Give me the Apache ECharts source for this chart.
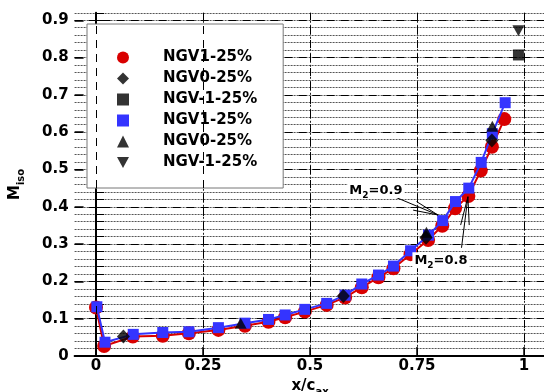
<!DOCTYPE html>
<html>
<head>
<meta charset="utf-8">
<script src="https://cdn.jsdelivr.net/npm/echarts@6/dist/echarts.min.js"></script>
<style>html,body{margin:0;padding:0;background:#fff}#c{width:544px;height:392px}</style>
</head>
<body>
<div id="c"></div>
<script>
// ---- data ----
const legendNames = ['NGV1-25%', 'NGV0-25%', 'NGV-1-25%', 'NGV1-25%', 'NGV0-25%', 'NGV-1-25%'];
const xTickLabels = [0, 0.25, 0.5, 0.75, 1];
const yTickLabels = [0, 0.1, 0.2, 0.3, 0.4, 0.5, 0.6, 0.7, 0.8, 0.9];

const redX = [0, 0.019, 0.086, 0.156, 0.217, 0.286, 0.348, 0.403, 0.442, 0.488, 0.539, 0.582, 0.621, 0.660, 0.695, 0.735, 0.776, 0.809, 0.839, 0.870, 0.899, 0.925, 0.954];
const redY = [0.130, 0.027, 0.052, 0.054, 0.061, 0.070, 0.081, 0.092, 0.104, 0.119, 0.137, 0.157, 0.184, 0.211, 0.235, 0.273, 0.311, 0.349, 0.396, 0.429, 0.497, 0.561, 0.635];
const blueX = [0.002, 0.021, 0.087, 0.156, 0.217, 0.286, 0.348, 0.403, 0.442, 0.488, 0.539, 0.582, 0.621, 0.660, 0.695, 0.735, 0.777, 0.810, 0.840, 0.871, 0.900, 0.926, 0.956];
const blueY = [0.132, 0.037, 0.058, 0.063, 0.065, 0.076, 0.088, 0.098, 0.110, 0.125, 0.141, 0.163, 0.193, 0.217, 0.241, 0.282, 0.324, 0.363, 0.414, 0.450, 0.519, 0.596, 0.679];
const diamondX = [0.064, 0.578, 0.771, 0.925];
const diamondY = [0.052, 0.161, 0.317, 0.578];
const squareX = [0.987];
const squareY = [0.807];
const triX = [0.338, 0.772, 0.926];
const triY = [0.088, 0.332, 0.616];
const invTriX = [0.987];
const invTriY = [0.872];

// annotations (data coordinates)
const ann09 = { text: '0.9', pos: [0.654, 0.445], line: [[0.699, 0.426], [0.799, 0.378]], arms: [[0.749, 0.414], [0.741, 0.391]] };
const ann08 = { text: '0.8', pos: [0.806, 0.257], line: [[0.854, 0.290], [0.869, 0.427]], arms: [[0.852, 0.351], [0.872, 0.351]] };

// ---- helpers ----
const zip = (xs, ys) => xs.map((x, i) => [x, ys[i]]);
const FONT = 'DejaVu Sans, sans-serif';
const invTri = 'path://M0,0 L10,0 L5,9 Z';
const ids = legendNames.map((n, i) => n + '|' + i);

function annLines(a) {
  const t = a.line[1];
  return [
    [{ coord: a.line[0] }, { coord: t }],
    [{ coord: a.arms[0] }, { coord: t }],
    [{ coord: a.arms[1] }, { coord: t }]
  ];
}

const ySplitColors = yTickLabels.map(() => '#000').concat(['transparent']);
const richSub = (big, small, off) => ({
  m: { fontSize: big, fontWeight: 'bold', color: '#000', fontFamily: FONT, verticalAlign: 'bottom', lineHeight: big + 1 },
  s: { fontSize: small, fontWeight: 'bold', color: '#000', fontFamily: FONT, verticalAlign: 'bottom', lineHeight: big + 1, padding: [0, 0, -off, 0] }
});

const chart = echarts.init(document.getElementById('c'), null, { renderer: 'canvas' });
const option = {
  animation: false,
  textStyle: { fontFamily: FONT },
  grid: { left: 74.6, top: 12.8, width: 470.8, height: 343.2, containLabel: false, outerBoundsMode: 'none' },
  xAxis: {
    type: 'value', min: -0.05, max: 1.05, interval: 0.05,
    axisLine: { show: true, onZero: false, lineStyle: { color: '#000', width: 2 } },
    axisTick: { show: true, inside: true, length: 9, customValues: xTickLabels, lineStyle: { color: '#000', width: 1.5 } },
    axisLabel: { show: true, customValues: xTickLabels, margin: 3, color: '#000', fontWeight: 'bold', fontSize: 15, fontFamily: FONT,
      formatter: v => String(v) },
    splitLine: { show: true, lineStyle: { color: '#222', width: 1, type: [2, 2] } },
    name: '{m|x/c}{s|ax}', nameLocation: 'middle', nameGap: 19,
    nameTextStyle: { rich: richSub(15, 10, 4) }
  },
  yAxis: [
    {
      type: 'value', min: 0, max: 0.92, interval: 0.02, position: 'left',
      axisLine: { show: true, lineStyle: { color: '#000', width: 2 } },
      axisTick: { show: true, inside: true, length: 8, lineStyle: { color: '#000', width: 1 } },
      axisLabel: { show: false },
      splitLine: { show: true, lineStyle: { color: '#555', width: 1, type: [2, 1] } }
    },
    {
      type: 'value', min: 0, max: 0.92, interval: 0.1, position: 'left',
      axisLine: { show: false },
      axisTick: { show: true, inside: true, length: 9, lineStyle: { color: '#000', width: 1.5 } },
      axisLabel: { show: true, margin: 6, color: '#000', fontWeight: 'bold', fontSize: 15, fontFamily: FONT, showMaxLabel: false,
        formatter: v => (Math.abs(v * 10 - Math.round(v * 10)) < 1e-6) ? String(Math.round(v * 10) / 10) : '' },
      splitLine: { show: true, lineStyle: { color: ySplitColors, width: 1, type: [8, 6] } },
      name: '{m|M}{s|iso}', nameLocation: 'middle', nameGap: 52, nameRotate: 90,
      nameTextStyle: { rich: richSub(15, 10, 4) }
    }
  ],
  legend: {
    orient: 'vertical', left: 87, top: 24,
    backgroundColor: '#fff', borderColor: '#777', borderWidth: 1,
    padding: [26, 26, 18, 30],
    itemWidth: 12, itemHeight: 12, itemGap: 6,
    selectedMode: false,
    formatter: n => n.split('|')[0],
    textStyle: { fontSize: 15, fontWeight: 'bold', color: '#000', fontFamily: FONT, padding: [0, 0, 0, 29] },
    data: [
      { name: ids[0], icon: 'circle', itemStyle: { color: '#d90000' } },
      { name: ids[1], icon: 'diamond' },
      { name: ids[2], icon: 'rect' },
      { name: ids[3], icon: 'rect' },
      { name: ids[4], icon: 'triangle' },
      { name: ids[5], icon: invTri }
    ]
  },
  series: [
    {
      type: 'scatter', name: '__grid', data: [], z: 1, silent: true,
      markLine: {
        silent: true, symbol: ['none', 'none'], label: { show: false },
        lineStyle: { color: '#000', width: 1, type: [8, 6] },
        data: xTickLabels.map(v => ({ xAxis: v }))
      }
    },
    {
      type: 'line', name: ids[0], data: zip(redX, redY), z: 3,
      symbol: 'circle', symbolSize: 14, itemStyle: { color: '#d90000' },
      lineStyle: { color: '#d90000', width: 2 }
    },
    {
      type: 'line', name: ids[3], data: zip(blueX, blueY), z: 4,
      symbol: 'rect', symbolSize: 11, itemStyle: { color: '#3434ff' },
      lineStyle: { color: '#3434ff', width: 2 }
    },
    {
      type: 'scatter', name: ids[1], data: zip(diamondX, diamondY), z: 5,
      symbol: 'diamond', symbolSize: [13, 14], itemStyle: { color: '#000' }
    },
    {
      type: 'scatter', name: ids[2], data: zip(squareX, squareY), z: 5,
      symbol: 'rect', symbolSize: 11, itemStyle: { color: '#000' }
    },
    {
      type: 'scatter', name: ids[4], data: zip(triX, triY), z: 5,
      symbol: 'triangle', symbolSize: [12, 11], itemStyle: { color: '#000' }
    },
    {
      type: 'scatter', name: ids[5], data: zip(invTriX, invTriY), z: 5,
      symbol: invTri, symbolSize: [12, 11], itemStyle: { color: '#000' }
    },
    {
      type: 'scatter', name: '__ann', data: [], z: 6, silent: true,
      markLine: {
        silent: true, symbol: ['none', 'none'], label: { show: false },
        lineStyle: { color: '#000', width: 1, type: 'solid' },
        data: annLines(ann09).concat(annLines(ann08))
      },
      markPoint: {
        silent: true, symbol: 'rect', symbolSize: 1, itemStyle: { color: 'transparent' },
        label: {
          show: true, position: 'inside', backgroundColor: '#fff', padding: [1, 2, 1, 2],
          formatter: p => '{m|M}{s|2}{m|=' + p.name + '}',
          rich: richSub(13, 9, 3)
        },
        data: [
          { name: ann09.text, coord: ann09.pos },
          { name: ann08.text, coord: ann08.pos }
        ]
      }
    }
  ]
};
chart.setOption(option);
</script>
</body>
</html>
